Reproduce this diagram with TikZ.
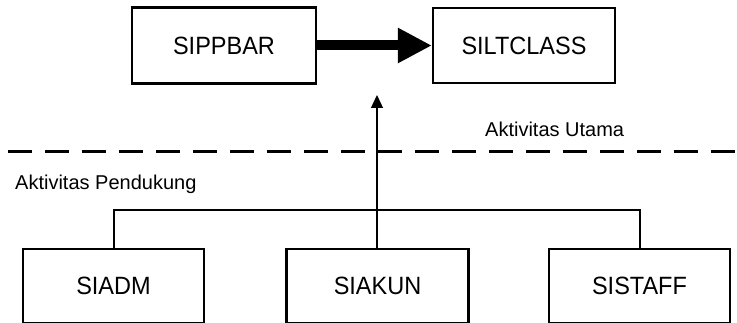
\documentclass[tikz,border=0pt]{standalone}
\usepackage{fontspec}
\setmainfont{Liberation Sans}
\newfontfamily\boxfont[FakeStretch=0.94]{Liberation Sans}
\usetikzlibrary{arrows.meta}
\begin{document}
\begin{tikzpicture}[x=1pt,y=-1pt,
  sysbox/.style={draw=black, line width=2.3pt, rectangle, inner sep=0pt,
    font=\boxfont\fontsize{25}{30}\selectfont},
  lbl/.style={inner sep=0pt, anchor=base west, font=\fontsize{20}{24}\selectfont},
  thin/.style={line width=1.3pt}]
\useasboundingbox (0,0) rectangle (737,323);
\clip (0,0) rectangle (737,323);

% primary systems
\node[sysbox, minimum width=184pt, minimum height=76pt] (sippbar) at (224,45.5) {SIPPBAR};
\node[sysbox, minimum width=182pt, minimum height=75pt] (siltclass) at (524,45.5) {SILTCLASS};

% supporting systems
\node[sysbox, minimum width=181pt, minimum height=74pt] (siadm) at (113.5,286) {SIADM};
\node[sysbox, minimum width=182pt, minimum height=74pt] (siakun) at (377.5,286) {SIAKUN};
\node[sysbox, minimum width=181pt, minimum height=74pt] (sistaff) at (639.5,286) {SISTAFF};

% thick flow between primary systems
\draw[line width=10pt, -{Triangle[length=34pt,width=33pt]}]
  (sippbar.east) -- (siltclass.west);

% boundary between main and supporting activities
\draw[line width=3pt, dash pattern=on 24pt off 13pt] (8,152) -- (737,152);
\node[lbl] (utama) at (485,137) {Aktivitas Utama};
\node[lbl] (pendukung) at (15,190) {Aktivitas Pendukung};

% bracket joining the supporting systems
\coordinate (junction) at (377,210);
\coordinate (tip) at (377,95);
\draw[thin] (siadm.north -| 114,0) -- (114,210) -- (640,210) -- (sistaff.north -| 640,0);
\draw[thin, -{Triangle[length=13pt,width=12pt]}] (siakun.north -| junction) -- (tip);
\end{tikzpicture}
\end{document}
